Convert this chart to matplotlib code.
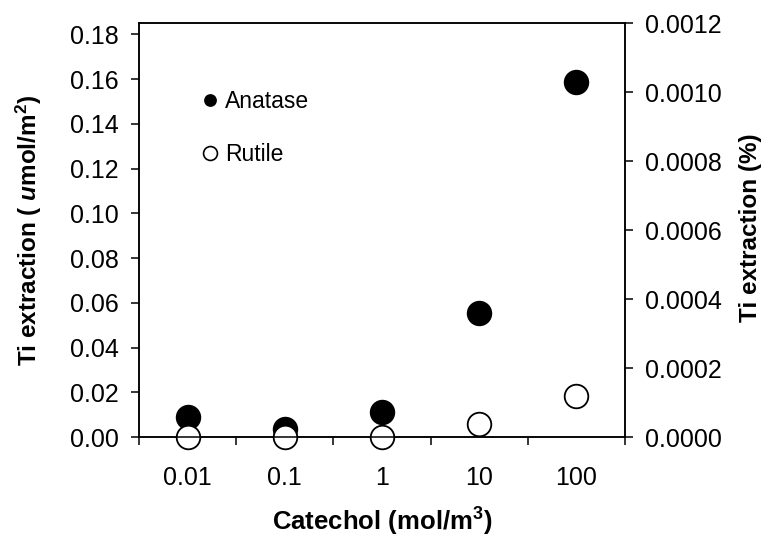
import matplotlib
matplotlib.use("Agg")
import matplotlib.pyplot as plt
from matplotlib.lines import Line2D

plt.rcParams['font.family'] = ['Liberation Sans', 'DejaVu Sans']
plt.rcParams['mathtext.fontset'] = 'custom'
plt.rcParams['mathtext.rm'] = 'Liberation Sans:bold'
plt.rcParams['mathtext.it'] = 'Liberation Sans:bold:italic'
plt.rcParams['mathtext.bf'] = 'Liberation Sans:bold'

categories = ['0.01', '0.1', '1', '10', '100']
anatase = [0.0089, 0.0036, 0.0112, 0.0554, 0.1586]
rutile = [0.0, 0.0, 0.0, 0.0058, 0.0183]
left_ticks = [0.00, 0.02, 0.04, 0.06, 0.08, 0.10, 0.12, 0.14, 0.16, 0.18]
right_ticks = [0.0, 0.0002, 0.0004, 0.0006, 0.0008, 0.0010, 0.0012]

TICK_FS = 18

fig = plt.figure(figsize=(7.66, 5.37), dpi=100)
ax = fig.add_axes([0.1815, 0.1862, 0.8159 - 0.1815, 0.957 - 0.1862])

xpos = [i + 0.5 for i in range(len(categories))]
ax.plot(xpos, anatase, 'o', ms=17, mfc='black', mec='black', mew=1.3, ls='none', clip_on=False, zorder=3)
ax.plot(xpos, rutile, 'o', ms=17, mfc='white', mec='black', mew=1.3, ls='none', clip_on=False, zorder=4)

ax.set_xlim(0, 5)
ax.set_ylim(0, 0.185)
ax.set_xticks(range(0, 6))
ax.set_xticklabels([])
ax.set_xticks(xpos, minor=True)
ax.set_xticklabels(categories, minor=True)
ax.tick_params(axis='x', which='minor', length=0, pad=21, labelsize=TICK_FS)
ax.tick_params(axis='x', which='major', direction='out', length=6, width=1.1)
ax.set_yticks(left_ticks)
ax.set_yticklabels([f'{v:.2f}' for v in left_ticks])
ax.tick_params(axis='y', direction='out', length=6, width=1.1, labelsize=TICK_FS, pad=8.6)

for s in ['top', 'right', 'left', 'bottom']:
    ax.spines[s].set_linewidth(1.1)

ax2 = ax.twinx()
ax2.set_ylim(0, 0.0012)
ax2.set_yticks(right_ticks)
ax2.set_yticklabels([f'{v:.4f}' for v in right_ticks])
ax2.tick_params(axis='y', direction='out', length=6, width=1.1, labelsize=TICK_FS, pad=8.6)
for s in ['top', 'right', 'left', 'bottom']:
    ax2.spines[s].set_linewidth(1.1)

ax.set_xlabel(r'Catechol (mol/m$^{3}$)', fontsize=18.5, fontweight='bold', va='center')
ax.xaxis.set_label_coords(0.5, -0.205)
ax.set_ylabel(r'Ti extraction ( $\mathit{u}$mol/m$^{2}$)', fontsize=17.5, fontweight='bold', va='center')
ax.yaxis.set_label_coords(-0.226, 0.5)
ax2.set_ylabel('Ti extraction (%)', fontsize=17.5, fontweight='bold', va='center')
ax2.yaxis.set_label_coords(1.259, 0.505)

handles = [
    Line2D([], [], marker='o', ls='none', ms=8, mfc='black', mec='black', mew=1.2),
    Line2D([], [], marker='o', ls='none', ms=10, mfc='white', mec='black', mew=1.2),
]
ax.legend(handles, ['Anatase', 'Rutile'], loc='upper left', bbox_to_anchor=(0.108, 0.865),
          frameon=False, fontsize=16.5, handlelength=0.6, handletextpad=0.35,
          labelspacing=1.3, borderpad=0)

fig.savefig('out.png', dpi=100)
